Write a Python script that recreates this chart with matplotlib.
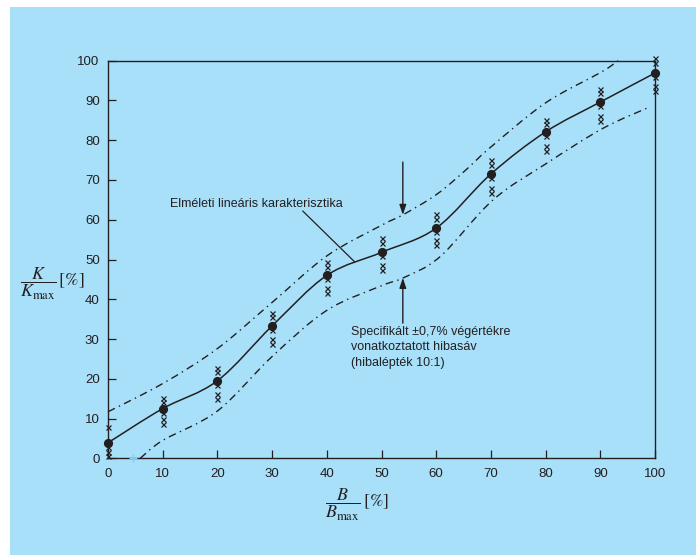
import numpy as np
import matplotlib
matplotlib.use("Agg")
import matplotlib.pyplot as plt
from matplotlib.path import Path
from matplotlib.patches import PathPatch, Rectangle

plt.rcParams['font.family'] = ['Liberation Sans', 'DejaVu Sans']
plt.rcParams['mathtext.fontset'] = 'stix'

INK = '#231f20'
BG = '#a8e0fa'

# Measured points (B/Bmax %, K/Kmax %)
x_pts = [0, 10, 20, 30, 40, 50, 60, 70, 80, 90, 100]
y_pts = [3.9, 12.5, 19.5, 33.3, 46.0, 51.8, 57.9, 71.5, 82.1, 89.6, 96.9]

# Repeated readings around each point (the small crosses)
cross_vals = [
    [7.8, 2.8, 1.7, 0.7],
    [15.2, 14.1, 11.4, 8.6, 9.8],
    [22.7, 21.6, 18.5, 16.1, 14.9],
    [36.6, 35.5, 32.3, 29.9, 28.7],
    [49.3, 48.2, 45.0, 42.8, 41.6],
    [55.3, 54.1, 50.8, 48.6, 47.4],
    [61.4, 60.1, 56.9, 54.9, 53.6],
    [75.0, 73.8, 70.5, 68.1, 66.8],
    [85.2, 84.0, 81.1, 78.5, 77.3],
    [93.0, 91.8, 88.6, 86.1, 84.9],
    [100.6, 99.4, 95.9, 93.6, 92.4],
]

# Tolerance band (dash-dot curves)
up_x = [0, 10, 20, 30, 40, 50, 54, 60, 65, 70, 80, 90, 93.3]
up_y = [11.7, 18.8, 27.6, 39.2, 50.9, 58.6, 61.3, 66.3, 72.0, 78.3, 89.4, 97.0, 100.0]
lo_x = [5.9, 10, 20, 30, 40, 50, 54, 60.7, 70.4, 80.2, 90.5, 99.1]
lo_y = [0.0, 4.5, 11.9, 25.6, 37.2, 43.4, 45.4, 50.7, 65.0, 74.2, 83.0, 88.4]


def smooth_path(xs, ys):
    pts = np.column_stack([xs, ys]).astype(float)
    ext = np.vstack([pts[0], pts, pts[-1]])
    verts = [pts[0]]
    codes = [Path.MOVETO]
    for i in range(len(pts) - 1):
        p0, p1, p2, p3 = ext[i], ext[i + 1], ext[i + 2], ext[i + 3]
        verts += [p1 + (p2 - p0) / 6, p2 - (p3 - p1) / 6, p2]
        codes += [Path.CURVE4] * 3
    return Path(verts, codes)


fig = plt.figure(figsize=(6.96, 5.55), dpi=100, facecolor='white')
fig.patches.append(Rectangle((10 / 696, 0), 1, (555 - 7) / 555, transform=fig.transFigure,
                             facecolor=BG, edgecolor='none', zorder=-10))

ax = fig.add_axes([108 / 696, (555 - 458.3) / 555, 547 / 696, 397.6 / 555])
ax.set_facecolor(BG)
ax.set_xlim(0, 100)
ax.set_ylim(0, 100)
for s in ax.spines.values():
    s.set_color(INK)
    s.set_linewidth(1.0)
ax.set_xticks(range(0, 101, 10))
ax.set_yticks(range(0, 101, 10))
ax.tick_params(direction='in', length=6, width=0.9, color=INK, labelcolor=INK,
               labelsize=9.5, pad=6)
ax.tick_params(axis='x', pad=7)

# band and characteristic curve
dashdot = (0, (5.5, 3.2, 1, 3.2))
ax.add_patch(PathPatch(smooth_path(up_x, up_y), fill=False, edgecolor=INK, lw=1.0,
                       linestyle=dashdot, clip_on=False))
ax.add_patch(PathPatch(smooth_path(lo_x, lo_y), fill=False, edgecolor=INK, lw=1.0,
                       linestyle=dashdot, clip_on=False))
ax.add_patch(PathPatch(smooth_path(x_pts, y_pts), fill=False, edgecolor=INK, lw=1.1,
                       clip_on=False))

for xv, vals in zip(x_pts, cross_vals):
    ax.plot([xv] * len(vals), vals, linestyle='none', marker='x', ms=3.6, mew=0.9,
            color=INK, clip_on=False, zorder=3)
ax.plot(x_pts, y_pts, linestyle='none', marker='o', ms=5.6, color=INK,
        clip_on=False, zorder=4)
ax.plot([4.5], [0], linestyle='none', marker='+', ms=6, mew=1.0, color='#7fd0f0',
        clip_on=False, zorder=5)

# annotations
ax.text(27.1, 64.0, 'Elméleti lineáris karakterisztika', fontsize=9, color=INK,
        ha='center', va='center')
ax.annotate('', xy=(45.1, 49.4), xytext=(35.6, 62.2),
            arrowprops=dict(arrowstyle='-', lw=0.9, color=INK, shrinkA=0, shrinkB=0))
arrow = dict(arrowstyle='-|>,head_length=0.6,head_width=0.2', lw=1.0, color=INK,
             mutation_scale=10, shrinkA=0, shrinkB=0)
ax.annotate('', xy=(53.9, 61.2), xytext=(53.9, 74.5), arrowprops=arrow)
ax.annotate('', xy=(53.9, 45.4), xytext=(53.9, 34.0), arrowprops=arrow)
ax.text(44.4, 33.2, 'Specifikált ±0,7% végértékre\nvonatkoztatott hibasáv\n(hibalépték 10:1)',
        fontsize=9, color=INK, ha='left', va='top', linespacing=1.35)

# axis labels
fig.text(52 / 696, 1 - 284 / 555, r'$\dfrac{K}{K_{\mathrm{max}}}\,\left[\%\right]$',
         fontsize=13, color=INK, ha='center', va='center')
fig.text(357 / 696, 1 - 505 / 555, r'$\dfrac{B}{B_{\mathrm{max}}}\,\left[\%\right]$',
         fontsize=13, color=INK, ha='center', va='center')

fig.savefig('out.png', dpi=100, facecolor='white')
